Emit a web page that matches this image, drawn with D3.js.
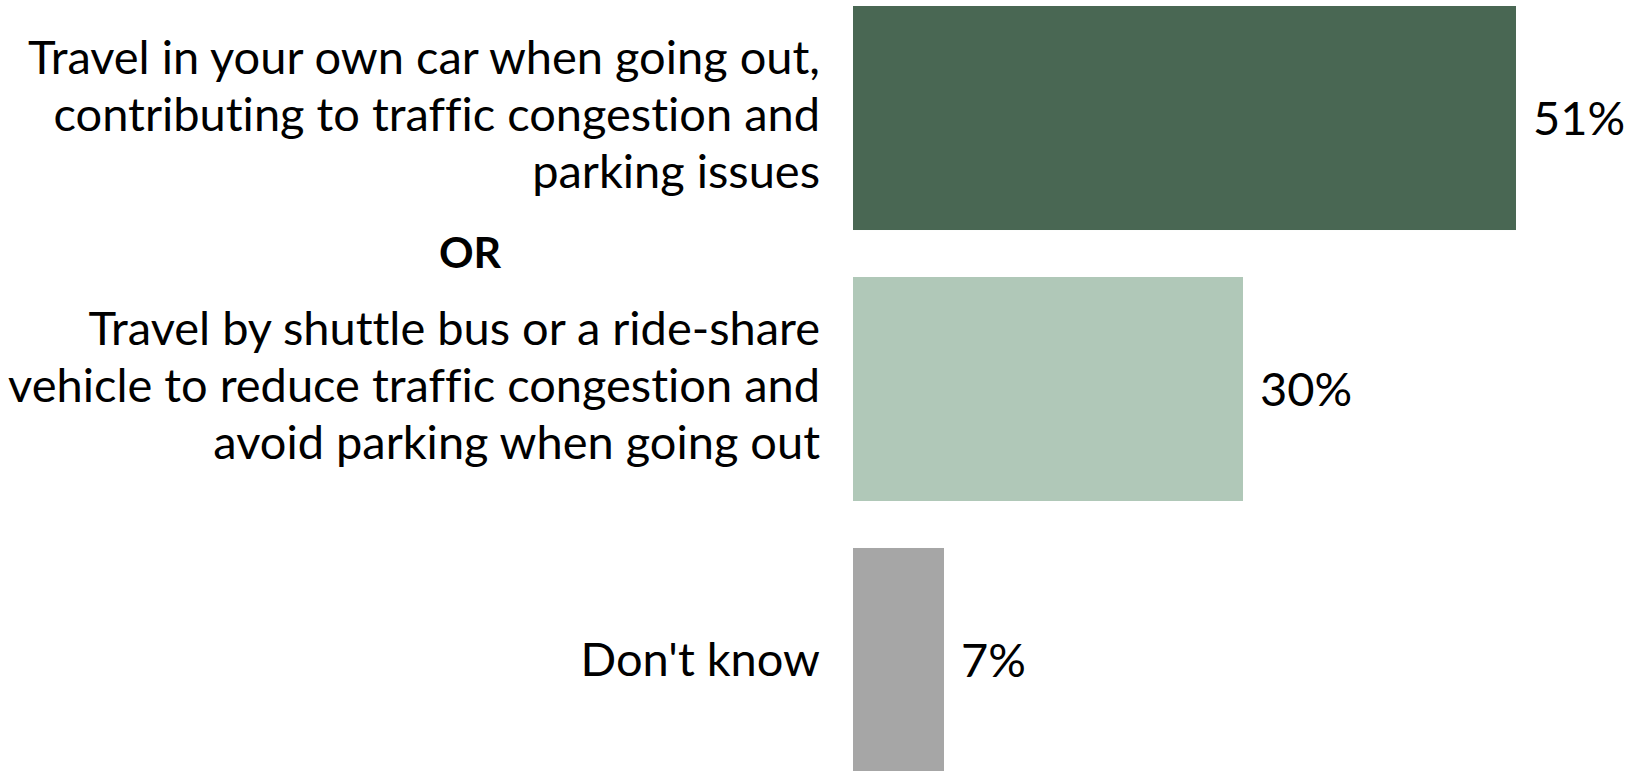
<!DOCTYPE html>
<html>
<head>
<meta charset="utf-8">
<script src="https://cdn.jsdelivr.net/npm/d3@7"></script>
<style>
  html, body { margin: 0; padding: 0; background: #ffffff; }
  svg { display: block; }
  text {
    font-family: Lato, "Open Sans", "Noto Sans", sans-serif;
    fill: #000000;
    font-variant-ligatures: none;
    font-feature-settings: "liga" 0, "clig" 0;
  }
</style>
</head>
<body>
<svg id="chart" width="1635" height="771"></svg>
<script>
// Survey answers, one bar per answer
const categories = [
  "Travel in your own car when going out, contributing to traffic congestion and parking issues",
  "Travel by shuttle bus or a ride-share vehicle to reduce traffic congestion and avoid parking when going out",
  "Don't know"
];
const labelLines = [
  ["Travel in your own car when going out,", "contributing to traffic congestion and", "parking issues"],
  ["Travel by shuttle bus or a ride-share", "vehicle to reduce traffic congestion and", "avoid parking when going out"],
  ["Don't know"]
];
const values = [51, 30, 7];
const colors = ["#496753", "#b0c8b8", "#a6a6a6"];
const separatorText = "OR";

const svg = d3.select("#chart");

const plotLeft = 853;
const x = d3.scaleLinear().domain([0, 100]).range([plotLeft, plotLeft + 1300]);
const y = d3.scaleBand().domain(categories).range([6, 772]).paddingInner(0.1734).paddingOuter(0);

const fontSize = 46;
const lineGap = 57;
const labelRight = 820;

// Bars
svg.append("g").selectAll("rect")
  .data(categories)
  .join("rect")
  .attr("x", x(0))
  .attr("y", d => y(d))
  .attr("width", (d, i) => x(values[i]) - x(0))
  .attr("height", y.bandwidth())
  .attr("fill", (d, i) => colors[i]);

// Category labels, right aligned against the bars
const labels = svg.append("g");
categories.forEach((c, i) => {
  const lines = labelLines[i];
  const cy = y(c) + y.bandwidth() / 2;
  const off = lines.length > 1 ? 13 : 16;
  lines.forEach((ln, j) => {
    labels.append("text")
      .attr("class", "cat")
      .attr("x", 0)
      .attr("y", cy + off + (j - (lines.length - 1) / 2) * lineGap)
      .attr("text-anchor", "end")
      .style("font-size", fontSize + "px")
      .text(ln);
  });
});

// Condense the face slightly so the widest line spans the label column
const firstLine = labels.select("text.cat").node();
const targetWidth = 792;
const sx = targetWidth / firstLine.getComputedTextLength();
labels.attr("transform", `translate(${labelRight},0) scale(${sx},1)`);

// Value labels to the right of each bar
categories.forEach((c, i) => {
  const cy = y(c) + y.bandwidth() / 2;
  svg.append("text")
    .attr("transform", `translate(${x(values[i]) + 17},${cy + 17}) scale(${sx},1)`)
    .style("font-size", fontSize + "px")
    .text(values[i] + "%");
});

// Separator between the two options
const gapMid = (y(categories[0]) + y.bandwidth() + y(categories[1])) / 2;
svg.append("text")
  .attr("transform", `translate(470,${gapMid + 14}) scale(${sx},1)`)
  .attr("text-anchor", "middle")
  .style("font-size", "42px")
  .style("font-weight", "bold")
  .text(separatorText);
</script>
</body>
</html>
